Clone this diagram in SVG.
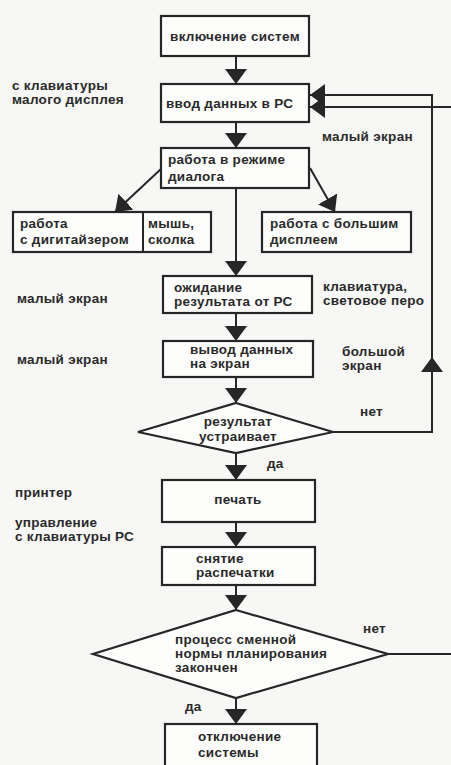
<svg xmlns="http://www.w3.org/2000/svg" width="451" height="765" viewBox="0 0 451 765">
<style>
.bg{fill:#f7f7f5}
.box{fill:#fdfdfc;stroke:#262626;stroke-width:2.2}
.t{font-family:"Liberation Sans",Arial,sans-serif;font-weight:bold;font-size:13.5px;fill:#2a2a2a;letter-spacing:0.3px}
.s{font-size:12.5px}
.c{text-anchor:middle}
.ln{fill:none;stroke:#262626;stroke-width:2}
.ar{marker-end:url(#ah)}
</style>
<defs>
<marker id="ah" viewBox="0 0 15 22" refX="15" refY="11" markerWidth="15" markerHeight="22" markerUnits="userSpaceOnUse" orient="auto">
<path d="M0,0 L15,11 L0,22 Z" fill="#262626"/>
</marker>
</defs>
<rect class="bg" x="0" y="0" width="451" height="765"/>

<g id="connectors">
<path class="ln ar" d="M236,56 V84"/>
<path class="ln ar" d="M236,122 V148"/>
<path class="ln ar" d="M162,168 L115,212"/>
<path class="ln ar" d="M310,168 L335,212"/>
<path class="ln ar" d="M236,188 V276"/>
<path class="ln ar" d="M236,313 V341"/>
<path class="ln ar" d="M236,377 V403"/>
<path class="ln ar" d="M236,453 V480"/>
<path class="ln ar" d="M236,522 V547"/>
<path class="ln ar" d="M236,585 V610"/>
<path class="ln ar" d="M236,698 V724"/>
<path class="ln ar" d="M333,432 H432 V357"/>
<path class="ln ar" d="M432,360 V95 H310"/>
<path class="ln ar" d="M388,654 H456 V107 H310"/>
</g>

<g id="n1"><rect class="box" x="161" y="16" width="148" height="40"/>
<text class="t c" x="235" y="41">включение систем</text></g>

<g id="n2"><rect class="box" x="161" y="84" width="148" height="38"/>
<text class="t" x="166" y="108">ввод данных в РС</text></g>

<g id="n3"><rect class="box" x="161" y="148" width="148" height="40"/>
<text class="t" x="168" y="164">работа в режиме</text>
<text class="t" x="168" y="181">диалога</text></g>

<g id="n4"><rect class="box" x="13" y="212" width="198" height="40"/>
<line class="ln" x1="143" y1="212" x2="143" y2="252"/>
<text class="t" x="20" y="228">работа</text>
<text class="t" x="20" y="244">с дигитайзером</text>
<text class="t" x="148" y="228">мышь,</text>
<text class="t" x="148" y="244">сколка</text></g>

<g id="n5"><rect class="box" x="262" y="212" width="149" height="40"/>
<text class="t" x="270" y="228">работа с большим</text>
<text class="t" x="270" y="244">дисплеем</text></g>

<g id="n6"><rect class="box" x="163" y="276" width="149" height="37"/>
<text class="t" x="174" y="292">ожидание</text>
<text class="t" x="174" y="306">результата от РС</text></g>

<g id="n7"><rect class="box" x="163" y="341" width="150" height="36"/>
<text class="t" x="190" y="354">вывод данных</text>
<text class="t" x="190" y="368">на экран</text></g>

<g id="n8"><polygon class="box" points="236,403 333,432 236,453 138,432"/>
<text class="t c" x="238" y="426">результат</text>
<text class="t c" x="238" y="441">устраивает</text></g>

<g id="n9"><rect class="box" x="162" y="480" width="153" height="42"/>
<text class="t c" x="238" y="504">печать</text></g>

<g id="n10"><rect class="box" x="162" y="547" width="153" height="38"/>
<text class="t" x="196" y="563">снятие</text>
<text class="t" x="196" y="577">распечатки</text></g>

<g id="n11"><polygon class="box" points="236,610 388,654 236,698 93,654"/>
<text class="t" x="175" y="644">процесс сменной</text>
<text class="t" x="175" y="658">нормы планирования</text>
<text class="t" x="175" y="672">закончен</text></g>

<g id="n12"><rect class="box" x="165" y="724" width="152" height="46"/>
<text class="t" x="198" y="741">отключение</text>
<text class="t" x="198" y="757">системы</text></g>

<g id="labels">
<text class="t" x="12" y="90">с клавиатуры</text>
<text class="t" x="12" y="104">малого дисплея</text>
<text class="t" x="322" y="141">малый экран</text>
<text class="t" x="323" y="291">клавиатура,</text>
<text class="t" x="323" y="305">световое перо</text>
<text class="t" x="17" y="303">малый экран</text>
<text class="t" x="17" y="364">малый экран</text>
<text class="t" x="342" y="356">большой</text>
<text class="t" x="342" y="370">экран</text>
<text class="t" x="360" y="416">нет</text>
<text class="t" x="267" y="468">да</text>
<text class="t" x="15" y="497">принтер</text>
<text class="t" x="15" y="527">управление</text>
<text class="t" x="15" y="541">с клавиатуры РС</text>
<text class="t" x="363" y="633">нет</text>
<text class="t" x="185" y="711">да</text>
</g>
</svg>
